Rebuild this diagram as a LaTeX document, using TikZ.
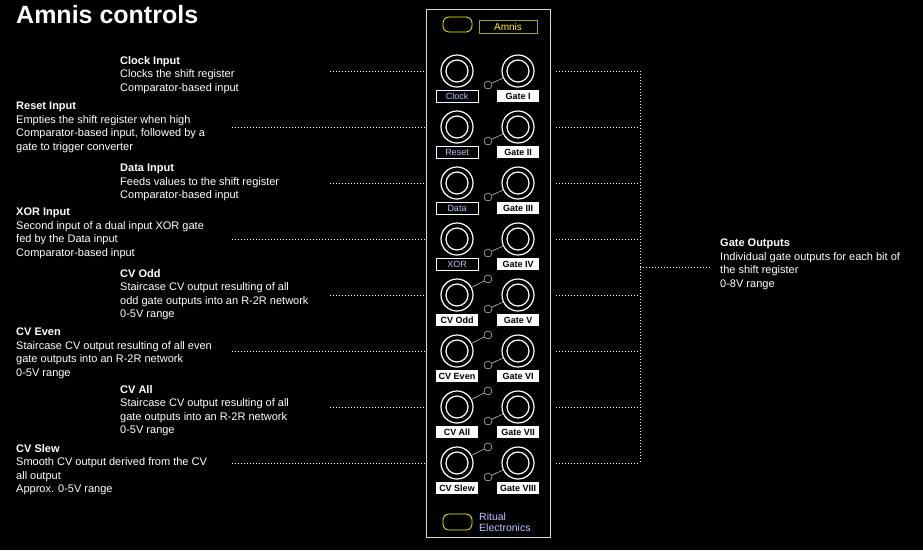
\documentclass[tikz,border=0pt]{standalone}
\usepackage{fontspec}
\setmainfont{Liberation Sans}
\usetikzlibrary{positioning}
\newcommand\jackin{457}
\newcommand\jackout{518}
\tikzset{
    desc/.style = {anchor=north west, align=left, text=white, inner sep=0pt,
        font=\fontsize{11}{13.5}\selectfont},
    lead/.style = {white, thick, dash pattern=on 1pt off 2pt},
    jack/.style = {circle, draw=white, very thick, minimum size=32pt, inner sep=0pt},
    ring/.style = {white, very thick},
    inlabel/.style = {draw=white, fill=black, text=white!75!blue, minimum width=42pt, minimum height=12pt, inner sep=0pt, font=\fontsize{9}{9}\selectfont},
    outlabel/.style = {fill=white, text=black, minimum width=42pt, minimum height=12pt, inner sep=0pt, font=\bfseries\fontsize{9}{9}\selectfont},
    led/.style = {circle, draw=white, minimum size=8pt, inner sep=0pt},
}
\begin{document}
\begin{tikzpicture}[x=1pt, y=-1pt]
    \fill[black] (0,0) rectangle (923,550);
    \useasboundingbox (0,0) rectangle (923,550);
    % --- Title
    \node[anchor=north west, inner sep=0pt, text=white, font=\bfseries\fontsize{25}{25}\selectfont] (title) at (16,5) {Amnis controls};
    % --- Panel
    \draw[white!85!black, thick] (426,9) rectangle (550,537);
    \draw[yellow, thick, rounded corners=6pt] (443,17) rectangle (472,32);
    \node[draw=yellow!60!black, thick, text=yellow, minimum width=58pt, minimum height=13pt, inner sep=0pt, font=\fontsize{10}{10}\selectfont] (name) at (508,27) {Amnis};
    \draw[yellow, thick, rounded corners=6pt] (443,514) rectangle (472,530);
    \node[anchor=west, align=left, inner sep=0pt, text=white!75!blue, font=\fontsize{10.5}{10.5}\selectfont] (maker) at (479,522) {Ritual\\Electronics};
    % --- Jacks
    \foreach \i/\y/\inp/\outp in {1/71/Clock/Gate I, 2/127/Reset/Gate II, 3/183/Data/Gate III, 4/239/XOR/Gate IV,
            5/295/CV Odd/Gate V, 6/351/CV Even/Gate VI, 7/407/CV All/Gate VII, 8/463/CV Slew/Gate VIII} {
        \node[jack] (in\i) at (\jackin,\y) {};
        \node[jack] (out\i) at (\jackout,\y) {};
        \draw[ring] (in\i) circle [radius=11];
        \draw[ring] (out\i) circle [radius=11];
        \node[led] (gled\i) at (488,\y+14) {};
        \draw[white] (gled\i) -- (out\i);
        \ifnum\i>4
            \node[outlabel] (inl\i) at (\jackin,\y+25) {\inp};
            \node[led] (cled\i) at (488,\y-16) {};
            \draw[white] (cled\i) -- (in\i);
        \else
            \node[inlabel] (inl\i) at (\jackin,\y+25) {\inp};
        \fi
        \node[outlabel] (outl\i) at (\jackout,\y+25) {\outp};
        \coordinate (gate\i) at (556,\y);
        \coordinate (bus\i) at (640,\y);
        \draw[lead] (gate\i) -- (bus\i);
    }
    % --- Input texts
    \node[desc] (d1) at (120,56) {\textbf{Clock Input}\\Clocks the shift register\\Comparator-based input};
    \node[desc] (d2) at (16,102) {\textbf{Reset Input}\\Empties the shift register when high\\Comparator-based input, followed by a\\gate to trigger converter};
    \node[desc] (d3) at (120,164) {\textbf{Data Input}\\Feeds values to the shift register\\Comparator-based input};
    \node[desc] (d4) at (16,208) {\textbf{XOR Input}\\Second input of a dual input XOR gate\\fed by the Data input\\Comparator-based input};
    \node[desc] (d5) at (120,269) {\textbf{CV Odd}\\Staircase CV output resulting of all\\odd gate outputs into an R-2R network\\0-5V range};
    \node[desc] (d6) at (16,328) {\textbf{CV Even}\\Staircase CV output resulting of all even\\gate outputs into an R-2R network\\0-5V range};
    \node[desc] (d7) at (120,385) {\textbf{CV All}\\Staircase CV output resulting of all\\gate outputs into an R-2R network\\0-5V range};
    \node[desc] (d8) at (16,444) {\textbf{CV Slew}\\Smooth CV output derived from the CV\\all output\\Approx. 0-5V range};
    \node[desc] (dg) at (720,239) {\textbf{Gate Outputs}\\Individual gate outputs for each bit of\\the shift register\\0-8V range};
    % --- Leaders
    \foreach \i/\x in {1/330, 3/330, 5/330, 7/330, 2/232, 4/232, 6/232, 8/232} {
        \coordinate (tip\i) at (\x,0 |- in\i);
        \coordinate (end\i) at (425,0 |- in\i);
        \draw[lead] (tip\i) -- (end\i);
    }
    \draw[lead] (bus1) -- (bus8);
    \coordinate (busmid) at (640,267);
    \coordinate (gatetip) at (710,267);
    \draw[lead] (busmid) -- (gatetip);
\end{tikzpicture}
\end{document}
